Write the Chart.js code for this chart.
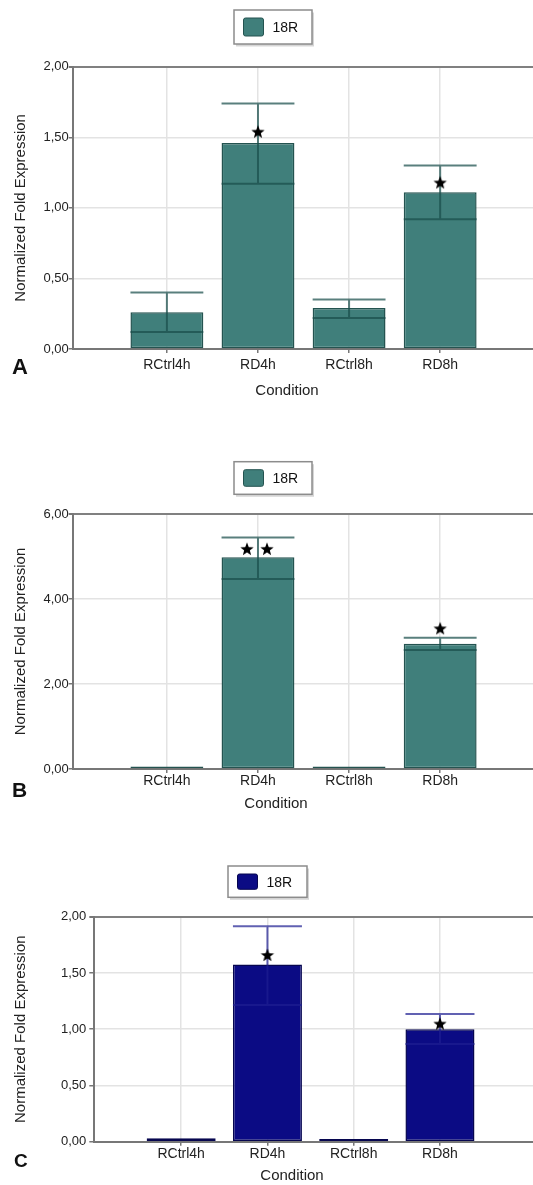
<!DOCTYPE html>
<html>
<head>
<meta charset="utf-8">
<script src="https://cdn.jsdelivr.net/npm/chart.js@4.4.1/dist/chart.umd.min.js"></script>
<style>
  html, body { margin: 0; padding: 0; background: #fff; overflow: hidden; }
  body { width: 533px; height: 1185px; position: relative; overflow: hidden; font-family: "Liberation Sans", Arial, sans-serif; }
  canvas { position: absolute; left: 0; }
  .tag { position: absolute; left: 12px; font-weight: bold; color: #111; line-height: 1; }
</style>
</head>
<body>
<canvas id="chartA" width="539" height="400" style="top:0px"></canvas>
<canvas id="chartB" width="539" height="363" style="top:450px"></canvas>
<canvas id="chartC" width="539" height="330" style="top:855px"></canvas>
<div class="tag" style="top:356px;font-size:22px">A</div>
<div class="tag" style="top:779px;font-size:21px">B</div>
<div class="tag" style="top:1151px;left:14px;font-size:19px">C</div>
<script>
const categories = ["RCtrl4h", "RD4h", "RCtrl8h", "RD8h"];
const seriesName = "18R";
const xAxisTitle = "Condition";
const yAxisTitle = "Normalized Fold Expression";

// panel A
const valuesA = [0.26, 1.46, 0.29, 1.11];
const lowA = [0.12, 1.17, 0.22, 0.92];
const highA = [0.40, 1.74, 0.35, 1.30];
const starsA = [null, 1.54, null, 1.18];
const starCountA = [0, 1, 0, 1];
const yTicksA = [0, 0.5, 1, 1.5, 2];

// panel B
const valuesB = [0.06, 4.98, 0.06, 2.95];
const lowB = [null, 4.47, null, 2.80];
const highB = [null, 5.45, null, 3.09];
const starsB = [null, 5.18, null, 3.31];
const starCountB = [0, 2, 0, 1];
const yTicksB = [0, 2, 4, 6];

// panel C
const valuesC = [0.03, 1.575, 0.025, 1.0];
const lowC = [null, 1.215, null, 0.868];
const highC = [null, 1.915, null, 1.135];
const starsC = [null, 1.66, null, 1.05];
const starCountC = [0, 1, 0, 1];
const yTicksC = [0, 0.5, 1, 1.5, 2];

Chart.defaults.font.family = "'Liberation Sans', Arial, sans-serif";
Chart.defaults.color = "#222";

function starImage(count) {
  const c = document.createElement("canvas");
  const gap = 20;
  c.width = count === 2 ? 18 + gap : 16;
  c.height = 16;
  const g = c.getContext("2d");
  g.fillStyle = "#000";
  for (let k = 0; k < count; k++) {
    const cx = 8 + k * gap, cy = 8.6;
    g.beginPath();
    for (let p = 0; p < 10; p++) {
      const r = p % 2 === 0 ? 7 : 3;
      const a = -Math.PI / 2 + p * Math.PI / 5;
      const px = cx + r * Math.cos(a), py = cy + r * Math.sin(a);
      p === 0 ? g.moveTo(px, py) : g.lineTo(px, py);
    }
    g.closePath();
    g.fill();
  }
  return c;
}
const oneStar = starImage(1);
const twoStars = starImage(2);

const errorBars = {
  id: "errorBars",
  afterDatasetDraw(chart, args, opts) {
    if (args.index !== 0) return;
    const { ctx } = chart;
    const y = chart.scales.y;
    ctx.save();
    ctx.strokeStyle = opts.color;
    ctx.lineWidth = 2;
    args.meta.data.forEach((bar, i) => {
      if (opts.low[i] == null) return;
      const yl = y.getPixelForValue(opts.low[i]);
      const yh = y.getPixelForValue(opts.high[i]);
      const half = bar.width / 2;
      ctx.beginPath();
      ctx.moveTo(bar.x, yl); ctx.lineTo(bar.x, yh);
      ctx.moveTo(bar.x - half, yl); ctx.lineTo(bar.x + half, yl);
      ctx.moveTo(bar.x - half, yh); ctx.lineTo(bar.x + half, yh);
      ctx.stroke();
    });
    ctx.restore();
  }
};

const boxLegend = {
  id: "boxLegend",
  afterDraw(chart, args, opts) {
    const { ctx } = chart;
    const ds = chart.data.datasets[0];
    const { x, y, w, h } = opts;
    ctx.save();
    ctx.fillStyle = "rgba(0,0,0,0.16)";
    ctx.fillRect(x + 2, y + 2.5, w, h);
    ctx.fillStyle = "#fff";
    ctx.fillRect(x, y, w, h);
    ctx.strokeStyle = "#8c8c8c";
    ctx.lineWidth = 1.5;
    ctx.strokeRect(x, y, w, h);
    const sh = h - 16;
    ctx.fillStyle = ds.backgroundColor;
    ctx.strokeStyle = ds.borderColor;
    ctx.lineWidth = 1;
    ctx.beginPath();
    ctx.roundRect(x + 9.5, y + (h - sh) / 2, 20, sh, 2);
    ctx.fill();
    ctx.stroke();
    ctx.fillStyle = "#111";
    ctx.font = "14px 'Liberation Sans', Arial, sans-serif";
    ctx.textBaseline = "middle";
    ctx.fillText(ds.label, x + 38.5, y + h / 2 + 1);
    ctx.restore();
  }
};

// the x title sits left of the plot centre in the original, so place it by hand
const xTitle = {
  id: "xTitle",
  afterDraw(chart, args, opts) {
    const { ctx } = chart;
    ctx.save();
    ctx.fillStyle = "#222";
    ctx.font = "15px 'Liberation Sans', Arial, sans-serif";
    ctx.textAlign = "center";
    ctx.textBaseline = "middle";
    ctx.fillText(opts.text, opts.x, chart.scales.x.bottom - 9);
    ctx.restore();
  }
};

function makeChart(id, p) {
  const top = p.yTicks[p.yTicks.length - 1];
  const axisGrey = "#777";
  new Chart(document.getElementById(id), {
    data: {
      datasets: [
        {
          type: "bar",
          label: seriesName,
          data: p.values.map((v, i) => ({ x: i, y: v })),
          backgroundColor: p.fill,
          borderColor: p.edge,
          borderWidth: 1.5,
          borderSkipped: false,
          barPercentage: 1,
          categoryPercentage: 0.8
        },
        {
          type: "line",
          label: "significance",
          order: -1,
          showLine: false,
          data: p.stars.map((v, i) => ({ x: i, y: v, n: p.starCount[i] })).filter(d => d.y != null),
          pointStyle: c => (c.raw && c.raw.n === 2 ? twoStars : oneStar)
        }
      ]
    },
    options: {
      responsive: false,
      animation: false,
      events: [],
      layout: { padding: { top: p.padTop, left: 0, right: 0, bottom: 0 } },
      plugins: {
        legend: { display: false },
        tooltip: { enabled: false },
        errorBars: { low: p.low, high: p.high, color: p.whisker },
        boxLegend: p.legendBox,
        xTitle: { text: xAxisTitle, x: p.titleX }
      },
      scales: {
        x: {
          type: "linear",
          offset: false,
          min: p.xMin,
          max: p.xMax,
          afterBuildTicks: s => { s.ticks = categories.map((_, i) => ({ value: i })); },
          afterFit: s => { s.height = p.xHeight; s.paddingLeft = 0; s.paddingRight = 0; },
          ticks: { callback: v => categories[v], font: { size: 14 }, color: "#222", padding: p.xPad, maxRotation: 0, autoSkip: false },
          grid: { offset: false, color: "#e3e3e3", lineWidth: 1.5, tickColor: axisGrey, tickLength: 4 },
          border: { color: axisGrey, width: 2 },
          title: { display: false }
        },
        y: {
          min: 0,
          max: top,
          afterBuildTicks: s => { s.ticks = p.yTicks.map(v => ({ value: v })); },
          afterFit: s => { s.width = p.axisLeft; },
          ticks: { callback: v => v.toFixed(2).replace(".", ","), font: { size: 13 }, color: "#222", padding: p.yPad },
          grid: {
            color: c => (c.tick && c.tick.value === top ? "#808080" : "#e3e3e3"),
            lineWidth: c => (c.tick && c.tick.value === top ? 2 : 1.5),
            tickColor: axisGrey,
            tickLength: p.yTick
          },
          border: { color: axisGrey, width: 2 },
          title: { display: true, text: yAxisTitle, font: { size: 15 }, color: "#222", padding: { top: 12, bottom: 0 } }
        }
      }
    },
    plugins: [errorBars, boxLegend, xTitle]
  });
}

const teal = { fill: "#407f7b", edge: "#245350", whisker: "rgba(25,78,75,0.72)" };
const navy = { fill: "#0b0b84", edge: "#06064f", whisker: "rgba(30,30,145,0.7)" };

makeChart("chartA", Object.assign({}, teal, {
  values: valuesA, low: lowA, high: highA, stars: starsA, starCount: starCountA, yTicks: yTicksA,
  padTop: 66.7, xHeight: 51, xPad: 3.6, axisLeft: 72.7, yPad: 0, yTick: 4,
  xMin: -1.034, xMax: 4.03, titleX: 287,
  legendBox: { x: 234, y: 10, w: 78, h: 34 }
}));
makeChart("chartB", Object.assign({}, teal, {
  values: valuesB, low: lowB, high: highB, stars: starsB, starCount: starCountB, yTicks: yTicksB,
  padTop: 64, xHeight: 44, xPad: 0, axisLeft: 72.7, yPad: 0, yTick: 4,
  xMin: -1.034, xMax: 4.03, titleX: 276,
  legendBox: { x: 234, y: 11.7, w: 78, h: 32.6 }
}));
makeChart("chartC", Object.assign({}, navy, {
  values: valuesC, low: lowC, high: highC, stars: starsC, starCount: starCountC, yTicks: yTicksC,
  padTop: 61.7, xHeight: 43.3, xPad: 0.3, axisLeft: 94.3, yPad: 3, yTick: 5,
  xMin: -1.007, xMax: 4.09, titleX: 292,
  legendBox: { x: 228, y: 11, w: 79, h: 31.3 }
}));
</script>
</body>
</html>
